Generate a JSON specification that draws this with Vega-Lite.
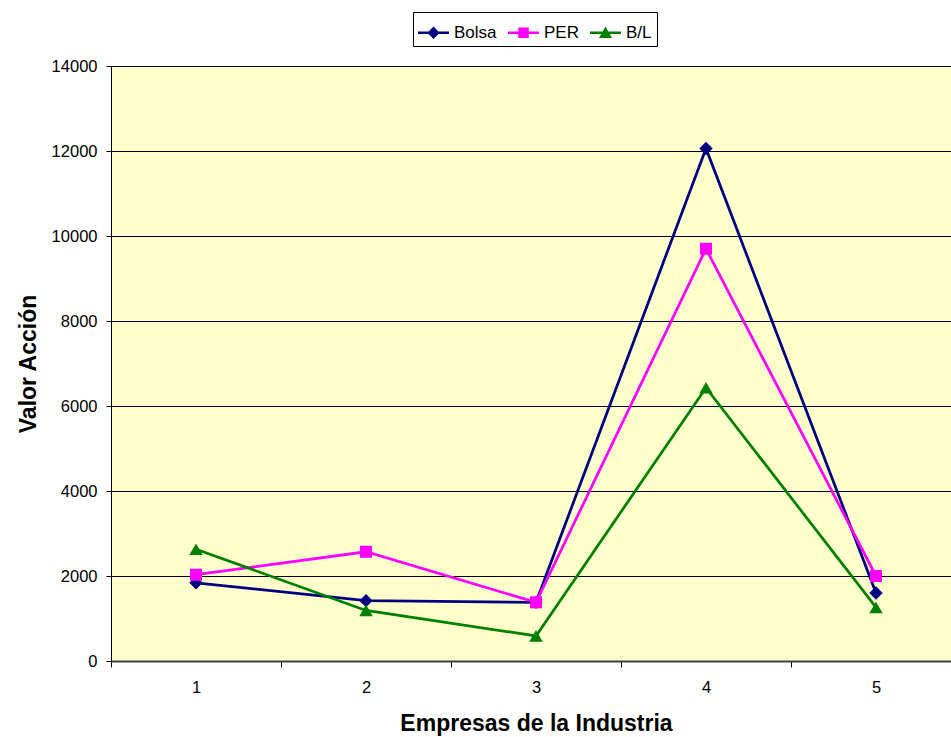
{
  "$schema": "https://vega.github.io/schema/vega-lite/v6.json",
  "width": 850,
  "height": 595,
  "autosize": {"type": "none"},
  "padding": {"left": 111, "top": 66, "right": 0, "bottom": 76},
  "background": "white",
  "config": {
    "font": "Liberation Sans",
    "view": {"fill": "#FFFFCC", "stroke": "#808080", "strokeWidth": 1}
  },
  "data": {
    "values": [
      {"empresa": "1", "serie": "Bolsa", "valor": 1840},
      {"empresa": "2", "serie": "Bolsa", "valor": 1420},
      {"empresa": "3", "serie": "Bolsa", "valor": 1380},
      {"empresa": "4", "serie": "Bolsa", "valor": 12060},
      {"empresa": "5", "serie": "Bolsa", "valor": 1600},
      {"empresa": "1", "serie": "PER", "valor": 2030},
      {"empresa": "2", "serie": "PER", "valor": 2570},
      {"empresa": "3", "serie": "PER", "valor": 1380},
      {"empresa": "4", "serie": "PER", "valor": 9700},
      {"empresa": "5", "serie": "PER", "valor": 2000},
      {"empresa": "1", "serie": "B/L", "valor": 2630},
      {"empresa": "2", "serie": "B/L", "valor": 1190},
      {"empresa": "3", "serie": "B/L", "valor": 590},
      {"empresa": "4", "serie": "B/L", "valor": 6430},
      {"empresa": "5", "serie": "B/L", "valor": 1260}
    ]
  },
  "encoding": {
    "x": {
      "field": "empresa",
      "type": "ordinal",
      "bandPosition": 0.5,
      "scale": {"type": "band", "paddingInner": 0, "paddingOuter": 0},
      "axis": {
        "title": "Empresas de la Industria",
        "titleFont": "Liberation Sans",
        "titleFontSize": 23,
        "titleFontWeight": "bold",
        "titleColor": "black",
        "titlePadding": 17,
        "labelAngle": 0,
        "labelFont": "Liberation Sans",
        "labelFontSize": 16.5,
        "labelColor": "black",
        "labelPadding": 12,
        "tickBand": "extent",
        "tickColor": "black",
        "tickSize": 6,
        "domainColor": "#404040",
        "domainWidth": 2,
        "grid": false
      }
    },
    "y": {
      "field": "valor",
      "type": "quantitative",
      "scale": {"domain": [0, 14000], "nice": false},
      "axis": {
        "title": "Valor Acción",
        "titleFont": "Liberation Sans",
        "titleFontSize": 23,
        "titleFontWeight": "bold",
        "titleColor": "black",
        "titlePadding": 11,
        "values": [0, 2000, 4000, 6000, 8000, 10000, 12000, 14000],
        "format": "d",
        "labelFont": "Liberation Sans",
        "labelFontSize": 16.5,
        "labelColor": "black",
        "labelPadding": 9,
        "tickSize": 5,
        "tickColor": "black",
        "domainColor": "black",
        "grid": true,
        "gridColor": "black",
        "gridWidth": 1
      }
    }
  },
  "layer": [
    {
      "mark": {"type": "line", "strokeWidth": 2.75},
      "encoding": {
        "color": {
          "field": "serie",
          "type": "nominal",
          "scale": {"domain": ["Bolsa", "PER", "B/L"], "range": ["#000080", "#FF00FF", "#008000"]},
          "legend": {
            "title": null,
            "orient": "none",
            "legendX": 302,
            "legendY": -54,
            "direction": "horizontal",
            "strokeColor": "black",
            "padding": 5,
            "labelFont": "Liberation Sans",
            "labelFontSize": 17,
            "labelColor": "black",
            "labelOffset": 5,
            "columnPadding": 11,
            "symbolSize": 961,
            "symbolOpacity": 1,
            "encoding": {
              "symbols": {
                "shape": {"value": {"signal": "datum.value == 'Bolsa' ? 'M-1,-0.08H1V0.08H-1Z M0,-0.4L0.4,0L0,0.4L-0.4,0Z' : datum.value == 'PER' ? 'M-1,-0.08H1V0.08H-1Z M-0.34,-0.34H0.34V0.34H-0.34Z' : 'M-1,-0.08H1V0.08H-1Z M0,-0.4L0.42,0.34H-0.42Z'"}},
                "fill": {"value": {"signal": "datum.value == 'Bolsa' ? '#000080' : datum.value == 'PER' ? '#FF00FF' : '#008000'"}},
                "fillOpacity": {"value": 1},
                "strokeWidth": {"value": 0}
              }
            }
          }
        }
      }
    },
    {
      "transform": [{"filter": "datum.serie == 'Bolsa'"}],
      "mark": {"type": "point", "filled": true, "opacity": 1, "size": 180, "shape": "diamond", "color": "#000080"}
    },
    {
      "transform": [{"filter": "datum.serie == 'PER'"}],
      "mark": {"type": "point", "filled": true, "opacity": 1, "size": 144, "shape": "square", "color": "#FF00FF"}
    },
    {
      "transform": [{"filter": "datum.serie == 'B/L'"}],
      "mark": {"type": "point", "filled": true, "opacity": 1, "size": 180, "shape": "triangle-up", "color": "#008000"}
    }
  ]
}
